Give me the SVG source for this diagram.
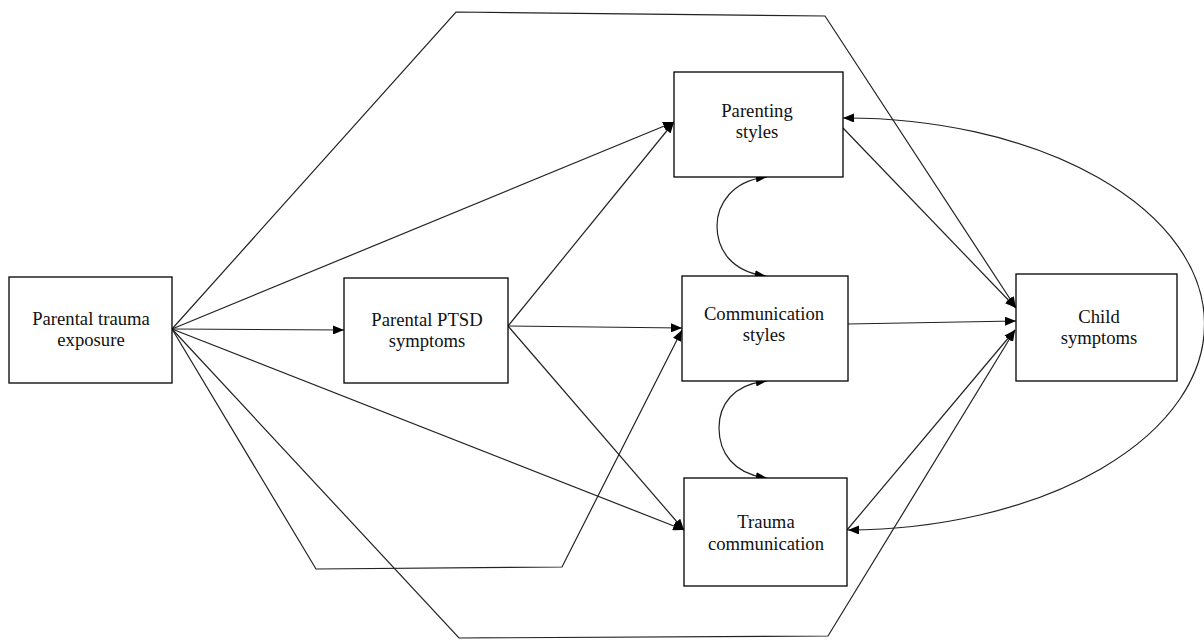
<svg xmlns="http://www.w3.org/2000/svg" width="1204" height="641" viewBox="0 0 1204 641">
<style>
.box{fill:#fff;stroke:#000;stroke-width:1.3}
.lbl{font-family:"Liberation Serif","Times New Roman",serif;font-size:18.67px;fill:#111;text-anchor:middle}
.c{fill:none;stroke:#222;stroke-width:1.2}
.a{marker-end:url(#ah)}
.d{marker-start:url(#ah);marker-end:url(#ah)}
</style>
<defs>
<marker id="ah" markerUnits="userSpaceOnUse" markerWidth="11" markerHeight="9" refX="11" refY="4.5" orient="auto-start-reverse" viewBox="0 0 11 9">
<path d="M0,0 L11,4.5 L0,9 z" fill="#000"/>
</marker>
</defs>
<g id="connectors">
<line class="c a" x1="172" y1="329" x2="674" y2="122"/>
<line class="c a" x1="172" y1="329" x2="344" y2="330"/>
<line class="c a" x1="172" y1="329" x2="684" y2="530"/>
<polyline class="c a" points="172,329 316,569 562,567 682,330"/>
<polyline class="c a" points="172,329 456,12 825,16 1016,308"/>
<polyline class="c a" points="172,329 459,638 828,636 1015,330"/>
<line class="c a" x1="508" y1="326" x2="674" y2="122"/>
<line class="c a" x1="508" y1="326" x2="682" y2="328"/>
<line class="c a" x1="508" y1="326" x2="684" y2="530"/>
<line class="c a" x1="843" y1="128" x2="1016" y2="308"/>
<line class="c a" x1="847" y1="324" x2="1016" y2="321"/>
<line class="c a" x1="847" y1="530" x2="1015" y2="330"/>
<path class="c d" d="M767,177 C732,180 717,205 717,226 C717,250 732,272 766,276"/>
<path class="c d" d="M767,381 C733,384 719,405 719,428 C719,452 733,474 767,478"/>
<path class="c d" d="M843,118 A359 206 0 0 1 848,530"/>
</g>
<g id="parental-trauma-exposure">
<rect class="box" x="9" y="277" width="163" height="106"/>
<text class="lbl" x="91" y="325">Parental trauma</text>
<text class="lbl" x="91" y="346">exposure</text>
</g>
<g id="parental-ptsd-symptoms">
<rect class="box" x="344" y="278" width="164" height="105"/>
<text class="lbl" x="427" y="326">Parental PTSD</text>
<text class="lbl" x="427" y="347">symptoms</text>
</g>
<g id="parenting-styles">
<rect class="box" x="674" y="72" width="169" height="105"/>
<text class="lbl" x="757" y="117">Parenting</text>
<text class="lbl" x="757" y="138">styles</text>
</g>
<g id="communication-styles">
<rect class="box" x="682" y="276" width="166" height="105"/>
<text class="lbl" x="764" y="320">Communication</text>
<text class="lbl" x="764" y="341">styles</text>
</g>
<g id="trauma-communication">
<rect class="box" x="684" y="478" width="163" height="108"/>
<text class="lbl" x="766" y="528">Trauma</text>
<text class="lbl" x="766" y="550">communication</text>
</g>
<g id="child-symptoms">
<rect class="box" x="1016" y="274" width="161" height="107"/>
<text class="lbl" x="1099" y="323">Child</text>
<text class="lbl" x="1099" y="344">symptoms</text>
</g>
</svg>
